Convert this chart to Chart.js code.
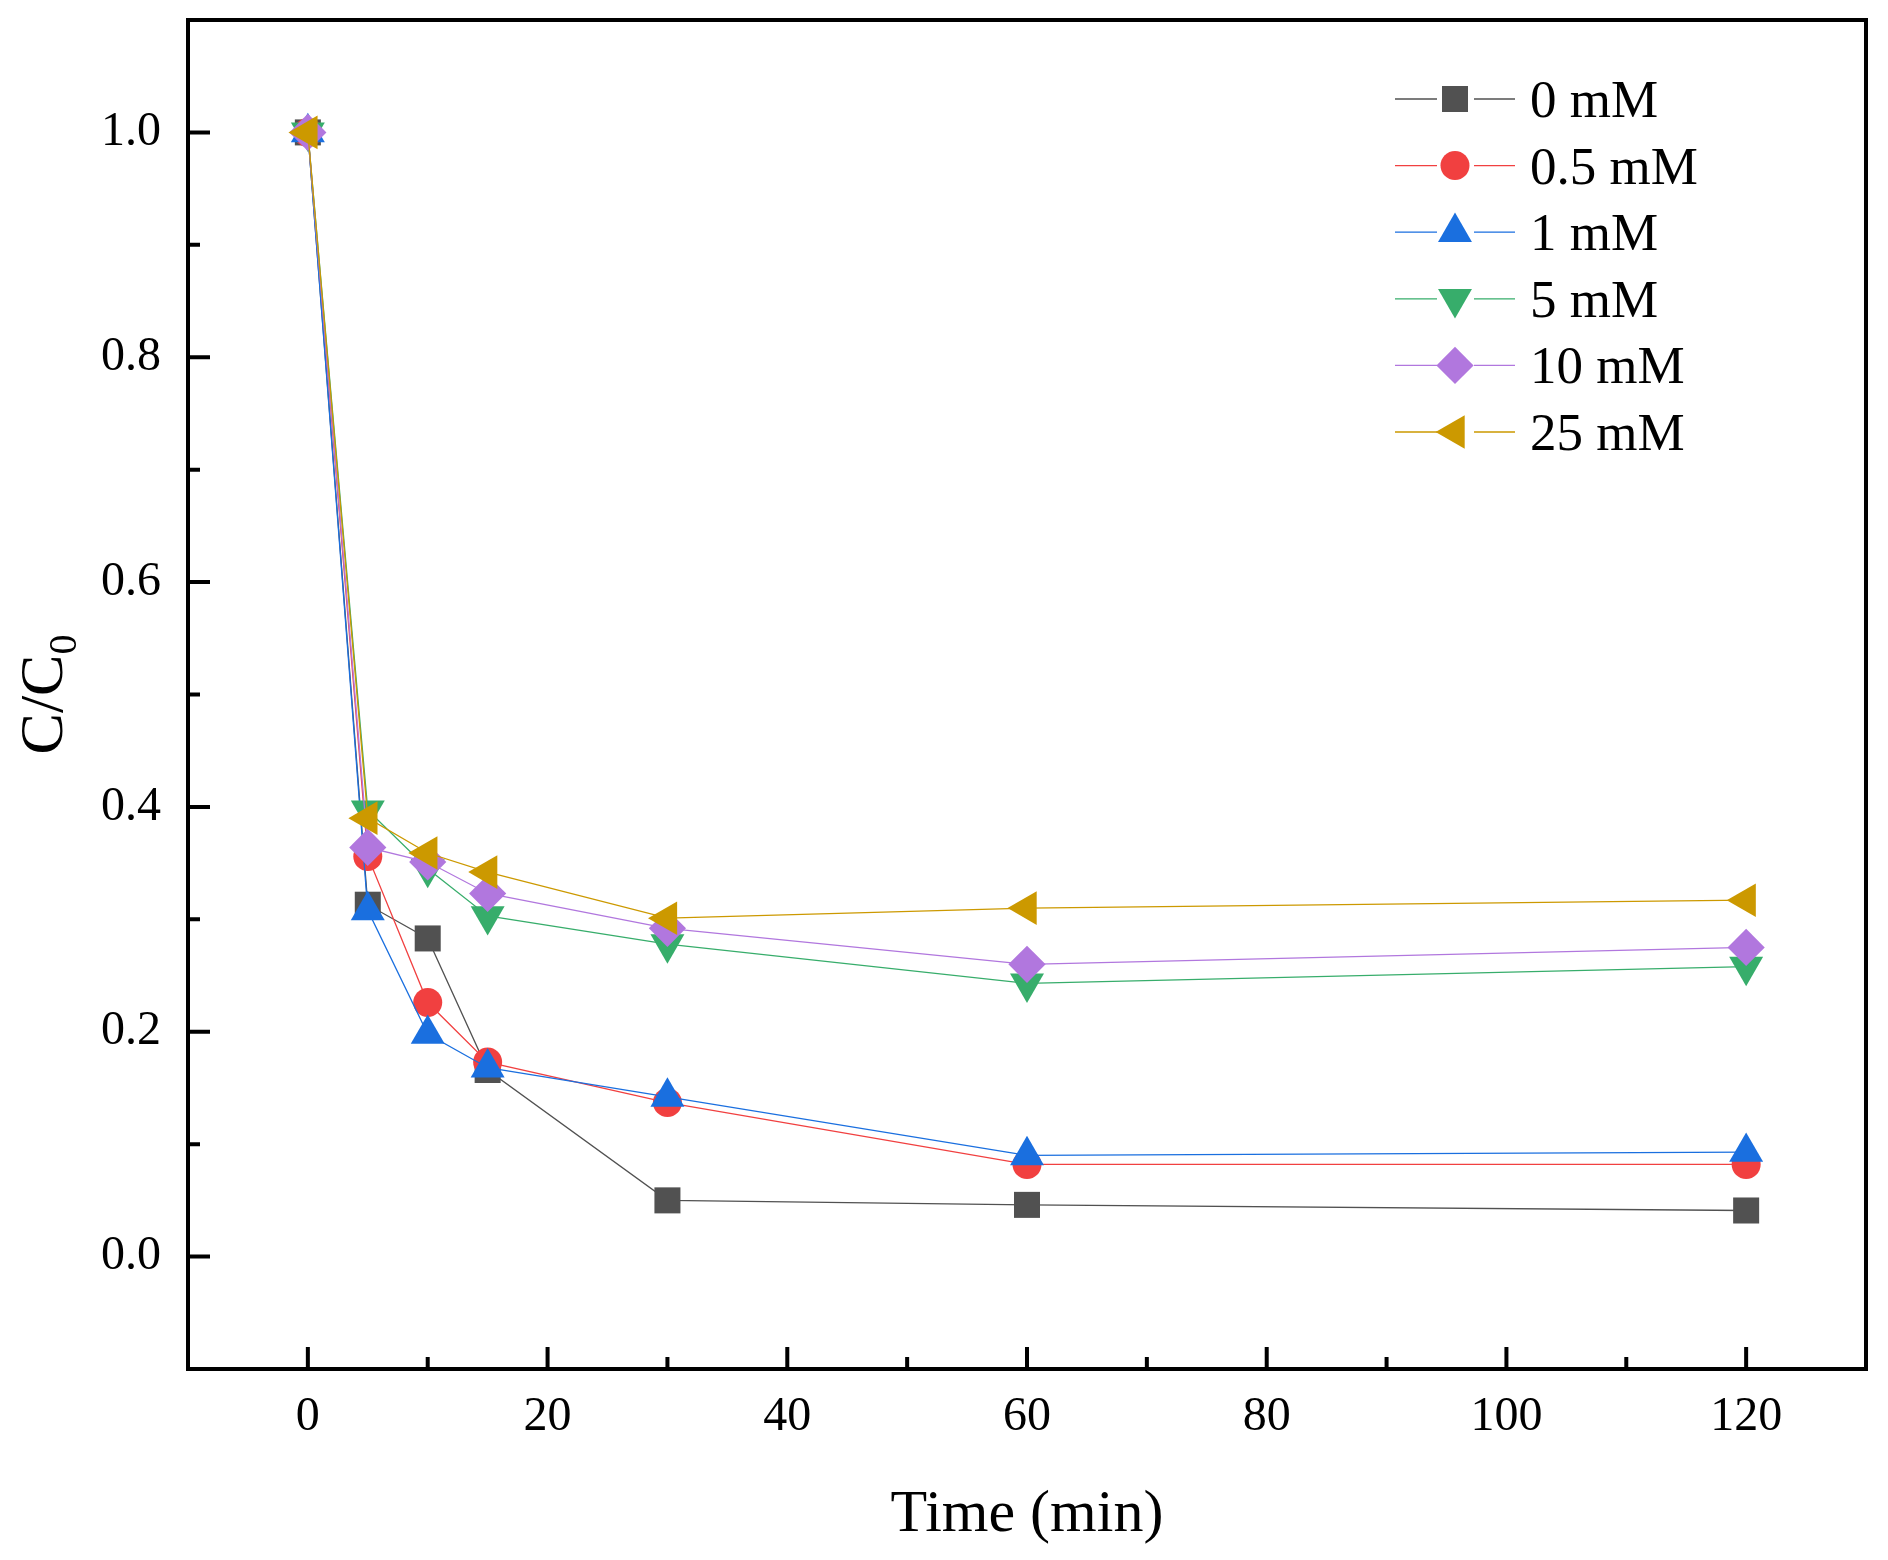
<!DOCTYPE html>
<html>
<head>
<meta charset="utf-8">
<title>C/C0 vs time</title>
<script src="https://cdn.jsdelivr.net/npm/chart.js@4.4.1/dist/chart.umd.min.js"></script>
<style>
  html, body { margin: 0; padding: 0; background: #fff; }
  #wrap { width: 1888px; height: 1560px; }
</style>
</head>
<body>
<div id="wrap"><canvas id="chart" width="1888" height="1560"></canvas></div>
<script>
// sampling times (min)
const times = [0, 5, 10, 15, 30, 60, 120];

// C/C0 per concentration
const conc0 = [1.0, 0.313, 0.283, 0.166, 0.050, 0.046, 0.041];
const conc05 = [1.0, 0.356, 0.226, 0.173, 0.137, 0.082, 0.082];
const conc1 = [1.0, 0.308, 0.198, 0.168, 0.142, 0.090, 0.093];
const conc5 = [1.0, 0.397, 0.345, 0.303, 0.278, 0.243, 0.258];
const conc10 = [1.0, 0.364, 0.351, 0.323, 0.292, 0.260, 0.275];
const conc25 = [1.0, 0.390, 0.359, 0.342, 0.301, 0.310, 0.317];

const seriesLabels = ["0 mM", "0.5 mM", "1 mM", "5 mM", "10 mM", "25 mM"];

// axis ticks
const xTicks = [0, 20, 40, 60, 80, 100, 120];
const xMinor = [-10, 10, 30, 50, 70, 90, 110, 130];
const yTicks = [0.0, 0.2, 0.4, 0.6, 0.8, 1.0];
const yMinor = [-0.1, 0.1, 0.3, 0.5, 0.7, 0.9, 1.1];

const FONT = "'Liberation Serif', 'Times New Roman', serif";

const styles = [
  { color: "#515151", pointStyle: "rect", radius: 18.4, rotation: 0 },
  { color: "#f14040", pointStyle: "circle", radius: 14.5, rotation: 0 },
  { color: "#1a6fdf", pointStyle: "triangle", radius: 19.6, rotation: 0 },
  { color: "#37ad6b", pointStyle: "triangle", radius: 19.6, rotation: 180 },
  { color: "#b177de", pointStyle: "rectRot", radius: 18.6, rotation: 0 },
  { color: "#cc9900", pointStyle: "triangle", radius: 19.4, rotation: 270 },
];

const allSeries = [conc0, conc05, conc1, conc5, conc10, conc25];

const datasets = allSeries.map((vals, i) => ({
  label: seriesLabels[i],
  data: times.map((t, k) => ({ x: t, y: vals[k] })),
  borderColor: styles[i].color,
  backgroundColor: styles[i].color,
  borderWidth: 1.3,
  pointStyle: styles[i].pointStyle,
  pointRadius: styles[i].radius,
  pointRotation: styles[i].rotation,
  pointBorderWidth: 0,
  pointBackgroundColor: styles[i].color,
  tension: 0,
  order: allSeries.length - i,
}));

// frame, inward ticks, axis titles and legend
const decorations = {
  id: "decorations",
  afterDraw(chart) {
    const { ctx, chartArea: a, scales } = chart;
    const xs = scales.x, ys = scales.y;
    ctx.save();
    ctx.strokeStyle = "#000";
    ctx.lineWidth = 4;
    ctx.strokeRect(a.left, a.top, a.right - a.left, a.bottom - a.top);

    ctx.beginPath();
    xTicks.forEach(v => {
      const px = xs.getPixelForValue(v);
      ctx.moveTo(px, a.bottom);
      ctx.lineTo(px, a.bottom - 22);
    });
    xMinor.forEach(v => {
      const px = xs.getPixelForValue(v);
      ctx.moveTo(px, a.bottom);
      ctx.lineTo(px, a.bottom - 12);
    });
    yTicks.forEach(v => {
      const py = ys.getPixelForValue(v);
      ctx.moveTo(a.left, py);
      ctx.lineTo(a.left + 22, py);
    });
    yMinor.forEach(v => {
      const py = ys.getPixelForValue(v);
      ctx.moveTo(a.left, py);
      ctx.lineTo(a.left + 12, py);
    });
    ctx.stroke();

    // x title
    ctx.fillStyle = "#000";
    ctx.font = "60px " + FONT;
    ctx.textAlign = "center";
    ctx.textBaseline = "alphabetic";
    ctx.fillText("Time (min)", (a.left + a.right) / 2, 1531);

    // y title with subscript
    ctx.save();
    ctx.translate(62, (a.top + a.bottom) / 2);
    ctx.rotate(-Math.PI / 2);
    ctx.font = "62px " + FONT;
    const mainW = ctx.measureText("C/C").width;
    ctx.font = "40px " + FONT;
    const subW = ctx.measureText("0").width;
    const start = -(mainW + subW) / 2;
    ctx.textAlign = "left";
    ctx.font = "62px " + FONT;
    ctx.fillText("C/C", start, 0);
    ctx.font = "40px " + FONT;
    ctx.fillText("0", start + mainW, 14);
    ctx.restore();

    // legend
    ctx.font = "53px " + FONT;
    ctx.textAlign = "left";
    seriesLabels.forEach((lab, i) => {
      const y = 99 + i * 66.6;
      const st = styles[i];
      ctx.strokeStyle = st.color;
      ctx.fillStyle = st.color;
      ctx.lineWidth = 1.3;
      ctx.beginPath();
      ctx.moveTo(1395, y);
      ctx.lineTo(1437, y);
      ctx.moveTo(1474, y);
      ctx.lineTo(1515, y);
      ctx.stroke();
      Chart.helpers.drawPoint(ctx, {
        pointStyle: st.pointStyle,
        radius: st.radius,
        rotation: st.rotation,
        borderWidth: 0,
      }, 1455, y);
      ctx.fillStyle = "#000";
      ctx.fillText(lab, 1530, y + 18);
    });
    ctx.restore();
  },
};

new Chart(document.getElementById("chart"), {
  type: "line",
  data: { datasets },
  options: {
    responsive: false,
    animation: false,
    devicePixelRatio: 1,
    layout: { padding: { top: 20, right: 22, left: 0, bottom: 0 } },
    plugins: {
      legend: { display: false },
      tooltip: { enabled: false },
    },
    scales: {
      x: {
        type: "linear",
        min: -10,
        max: 130,
        grid: { display: false, drawTicks: false },
        border: { display: false },
        afterBuildTicks: s => { s.ticks = xTicks.map(v => ({ value: v })); },
        afterFit: s => { s.height = 191; s.paddingLeft = 0; s.paddingRight = 0; },
        ticks: {
          autoSkip: false,
          maxRotation: 0,
          padding: 20,
          color: "#000",
          font: { family: FONT, size: 48 },
          callback: v => String(v),
        },
      },
      y: {
        type: "linear",
        min: -0.1,
        max: 1.1,
        grid: { display: false, drawTicks: false },
        border: { display: false },
        afterBuildTicks: s => { s.ticks = yTicks.map(v => ({ value: v })); },
        afterFit: s => { s.width = 188; s.paddingTop = 0; s.paddingBottom = 0; },
        ticks: {
          autoSkip: false,
          padding: 27,
          color: "#000",
          font: { family: FONT, size: 48 },
          callback: v => Number(v).toFixed(1),
        },
      },
    },
  },
  plugins: [decorations],
});
</script>
</body>
</html>
